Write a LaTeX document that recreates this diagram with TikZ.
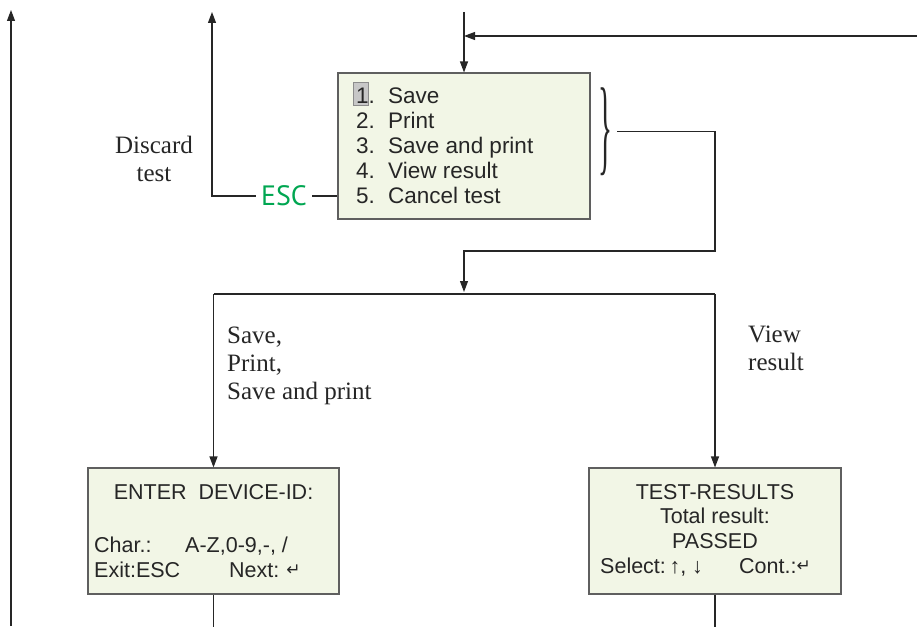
\documentclass[tikz,border=0pt]{standalone}
\usepackage{graphicx}
\usepackage{fontspec}
\setmainfont{Liberation Serif}
\setsansfont{Liberation Sans}
\newfontfamily\escfont{PT Sans}
\newfontfamily\symfont{DejaVu Sans}
\usetikzlibrary{arrows.meta, positioning, calc}

\definecolor{lcdfill}{RGB}{242,246,230}
\definecolor{lcdframe}{RGB}{95,95,95}
\definecolor{escgreen}{RGB}{0,166,81}
\newcommand\retkey{\raisebox{1.5pt}{\symfont\fontsize{17}{17}\selectfont ↵}}

\begin{document}
\begin{tikzpicture}[
    x=1pt, y=-1pt,
    lcd/.style={
        rectangle, draw=lcdframe, line width=1.1pt, fill=lcdfill,
        inner sep=0pt
    },
    lcdtext/.style={font=\sffamily\fontsize{21.5}{25}\selectfont, text=black!85, inner sep=0pt},
    menutext/.style={lcdtext, font=\sffamily\fontsize{22.5}{25}\selectfont},
    cursor/.style={rectangle, draw=black!45, fill=black!22, minimum width=15pt, minimum height=23pt, inner sep=0pt},
    caption/.style={font=\fontsize{25}{28}\selectfont, text=black!85, inner sep=0pt},
    esc/.style={font=\escfont\fontsize{28}{28}\selectfont, text=escgreen, inner sep=0pt, inner xsep=5pt},
    line/.style={draw=black!85, line width=1.1pt},
    arrow/.style={line, -{Triangle[length=11pt, width=8pt]}}
]
\useasboundingbox (0,0) rectangle (917,626);

% Menu display
\node[lcd, minimum width=252pt, minimum height=146pt] (menu) at (464,146) {};
\node[cursor] (cur) at (360.5,93.5) {};
\foreach \n/\t in {1/Save, 2/Print, 3/Save and print, 4/View result, 5/Cancel test}
    \node[menutext, anchor=base west] (item\n) at (356,{78+25*\n}) {\makebox[32pt][l]{\n.}\t};

% Brace on items 1-4
\node[inner sep=0pt, anchor=east, text=black!85] (brace) at (613,131.5) {\resizebox*{14pt}{88pt}{\fontsize{60}{60}\selectfont\}}};

% ESC exit
\node[esc] (escape) at (284,196) {ESC};
\node[caption, align=center, anchor=base] (discard) at (154,181) {Discard\\test};

% Input displays
\node[lcd, minimum width=251pt, minimum height=126pt] (enter) at (213.5,531) {};
\node[lcdtext, anchor=base] (entertitle) at (enter.center |- 0,499) {ENTER\ \ DEVICE-ID:};
\node[lcdtext, anchor=base west] (charlbl) at (94,552) {Char.:};
\node[lcdtext, anchor=base west] (charset) at (185,552) {A-Z,0-9,-, /};
\node[lcdtext, anchor=base west] (exitlbl) at (94,577) {Exit:ESC};
\node[lcdtext, anchor=base west] (nextlbl) at (229,577) {Next:\hspace{7pt}\retkey};

\node[lcd, minimum width=252pt, minimum height=126pt] (result) at (715,531) {};
\node[lcdtext, anchor=base] (restitle) at (result.center |- 0,499) {TEST-RESULTS};
\node[lcdtext, anchor=base] (restotal) at (result.center |- 0,523) {Total result:};
\node[lcdtext, anchor=base] (respass) at (result.center |- 0,548) {PASSED};
\node[lcdtext, anchor=base west] (selectlbl) at (600,573) {Select:\,↑, ↓};
\node[lcdtext, anchor=base west] (contlbl) at (739,573) {Cont.:\retkey};

% Branch labels
\node[caption, align=left, anchor=base west] (savelbl) at (227,399) {Save,\\Print,\\Save and print};
\node[caption, align=left, anchor=base west] (viewlbl) at (748,370) {View\\result};

% Free ends
\coordinate (backout) at (11,626);
\coordinate (backtop) at (11,10);
\coordinate (discardtop) at (212,12);
\coordinate (intop) at (464,12);
\coordinate (loopin) at (917,36);
\coordinate (join) at (464,251);
\coordinate (split) at (464,294);

% Arrows
\draw[arrow] (backout) -- (backtop);
\draw[line] (escape.east) -- (escape.east -| menu.west);
\draw[arrow] (escape.west) -| (discardtop);
\draw[arrow] (intop) -- (menu.north);
\draw[arrow] (loopin) -- (loopin -| menu.north);
\draw[arrow] ([xshift=4pt]brace.east) -| (result.north |- join) -- (join) -- ([yshift=2pt]split);
\draw[line] (enter.north |- split) -- (result.north |- split);
\draw[arrow] (enter.north |- split) -- (enter.north);
\draw[arrow] (result.north |- split) -- (result.north);
\draw[line] (enter.south) -- ++(0,32);
\draw[line] (result.south) -- ++(0,32);

\end{tikzpicture}
\end{document}
